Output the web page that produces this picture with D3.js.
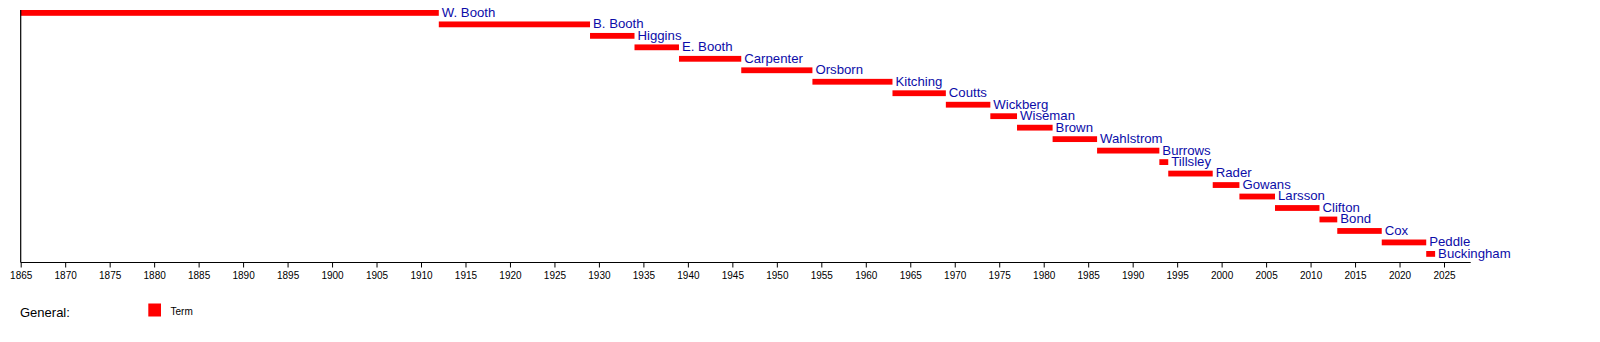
<!DOCTYPE html>
<html>
<head>
<meta charset="utf-8">
<script src="https://cdn.jsdelivr.net/npm/d3@7/dist/d3.min.js"></script>
<style>
  html, body { margin: 0; padding: 0; background: #fff; }
  svg { display: block; }
  text { font-family: "Liberation Sans", Arial, Helvetica, sans-serif; }
</style>
</head>
<body>
<svg id="chart" width="1600" height="342"></svg>
<script>
// Generals of The Salvation Army, terms by year
const names = ["W. Booth", "B. Booth", "Higgins", "E. Booth", "Carpenter", "Orsborn",
  "Kitching", "Coutts", "Wickberg", "Wiseman", "Brown", "Wahlstrom", "Burrows",
  "Tillsley", "Rader", "Gowans", "Larsson", "Clifton", "Bond", "Cox", "Peddle", "Buckingham"];
const termStart = [1865, 1912, 1929, 1934, 1939, 1946, 1954, 1963, 1969, 1974, 1977,
  1981, 1986, 1993, 1994, 1999, 2002, 2006, 2011, 2013, 2018, 2023];
const termEnd = [1912, 1929, 1934, 1939, 1946, 1954, 1963, 1969, 1974, 1977, 1981,
  1986, 1993, 1994, 1999, 2002, 2006, 2011, 2013, 2018, 2023, 2024];
const tickYears = d3.range(1865, 2026, 5);
const period = [1865, 2028];
const legendTitle = "General:";
const legendItems = ["Term"];

const barColor = "#ff0000";
const labelColor = "#0c0ca8";

const svg = d3.select("#chart");

const x = d3.scaleLinear().domain(period).range([20.7, 1470.7]);
const y = d3.scaleBand().domain(names).range([10, 256.8]).paddingInner(0.495).paddingOuter(0);

const axisY = 262.5;

// bars
svg.append("g").selectAll("rect")
  .data(names)
  .join("rect")
  .attr("x", (d, i) => x(termStart[i]))
  .attr("y", d => y(d))
  .attr("width", (d, i) => x(termEnd[i]) - x(termStart[i]))
  .attr("height", y.bandwidth())
  .attr("fill", barColor);

// bar labels
svg.append("g").selectAll("text")
  .data(names)
  .join("text")
  .attr("x", (d, i) => x(termEnd[i]) + 3)
  .attr("y", d => y(d) + y.bandwidth() + 1)
  .attr("font-size", "13.2px")
  .attr("fill", labelColor)
  .text(d => d);

// vertical axis line
svg.append("line")
  .attr("x1", x(period[0])).attr("x2", x(period[0]))
  .attr("y1", y(names[0])).attr("y2", axisY)
  .attr("stroke", "#000").attr("stroke-width", 1.2);

// time axis
const axis = d3.axisBottom(x)
  .tickValues(tickYears)
  .tickFormat(d3.format("d"))
  .tickSize(5)
  .tickPadding(4);

const gAxis = svg.append("g")
  .attr("transform", `translate(0,${axisY})`)
  .call(axis);
gAxis.select(".domain").remove();
gAxis.append("line")
  .attr("x1", x(period[0])).attr("x2", x(period[1]))
  .attr("y1", 0).attr("y2", 0)
  .attr("stroke", "#000").attr("stroke-width", 1.2);
gAxis.selectAll(".tick line").attr("stroke", "#000").attr("stroke-width", 1);
gAxis.selectAll(".tick text")
  .attr("font-size", "10px")
  .attr("font-family", "'Liberation Sans', Arial, sans-serif")
  .attr("fill", "#000");

// legend
svg.append("text")
  .attr("x", 20)
  .attr("y", 317)
  .attr("font-size", "13px")
  .attr("fill", "#000")
  .text(legendTitle);

const legend = svg.append("g").selectAll("g")
  .data(legendItems)
  .join("g");
legend.append("rect")
  .attr("x", 148.3).attr("y", 303.5)
  .attr("width", 12.7).attr("height", 13)
  .attr("fill", barColor);
legend.append("text")
  .attr("x", 170.5).attr("y", 314.5)
  .attr("font-size", "10px")
  .attr("fill", "#000")
  .text(d => d);
</script>
</body>
</html>
